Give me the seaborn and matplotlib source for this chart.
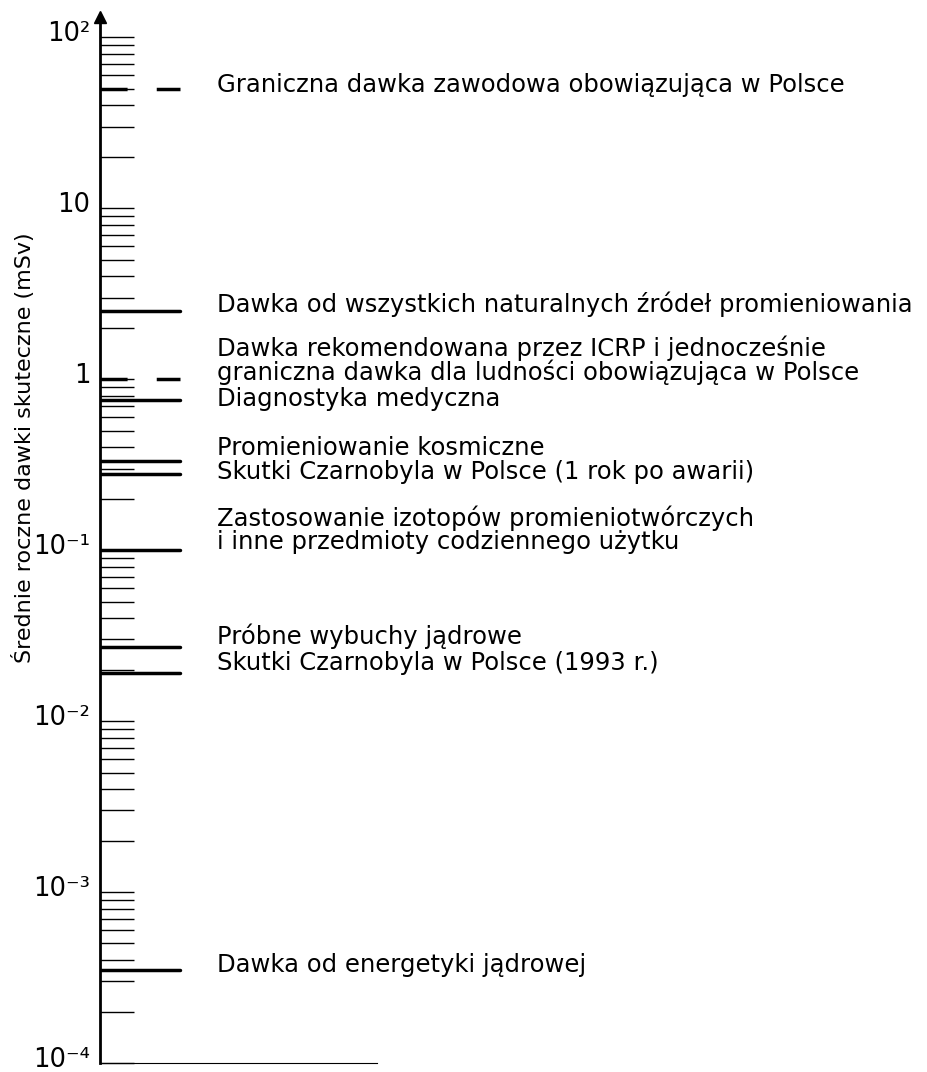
import numpy as np
import pandas as pd
import matplotlib
matplotlib.use('Agg')
import matplotlib.pyplot as plt
import matplotlib.transforms as mtransforms
import seaborn as sns
from matplotlib.ticker import LogLocator, NullFormatter, FixedLocator

# annual effective doses (mSv)
labels = [
    'Graniczna dawka zawodowa obowiązująca w Polsce',
    'Dawka od wszystkich naturalnych źródeł promieniowania',
    'Dawka rekomendowana przez ICRP i jednocześnie\ngraniczna dawka dla ludności obowiązująca w Polsce',
    'Diagnostyka medyczna',
    'Promieniowanie kosmiczne',
    'Skutki Czarnobyla w Polsce (1 rok po awarii)',
    'Zastosowanie izotopów promieniotwórczych\ni inne przedmioty codziennego użytku',
    'Próbne wybuchy jądrowe',
    'Skutki Czarnobyla w Polsce (1993 r.)',
    'Dawka od energetyki jądrowej',
]
doses = [50, 2.5, 1.0, 0.75, 0.33, 0.28, 0.1, 0.027, 0.019, 0.00035]
kinds = ['dashed', 'solid', 'dashed', 'solid', 'solid',
         'solid', 'solid', 'solid', 'solid', 'solid']

decades = [1e-4, 1e-3, 1e-2, 1e-1, 1, 10, 100]
decade_labels = ['10⁻⁴', '10⁻³', '10⁻²', '10⁻¹', '1', '10', '10²']

ylabel = 'Średnie roczne dawki skuteczne (mSv)'

# how far (px) each text sits above its line
text_offsets = [4, 7, 19, 1, 13, 2, 20, 11, 10, 5]

sns.set_style('ticks', {'text.color': 'black', 'axes.labelcolor': 'black',
                        'ytick.color': 'black', 'axes.edgecolor': 'black'})
plt.rcParams['font.family'] = ['DejaVu Sans']

fig = plt.figure(figsize=(9.28, 10.72), dpi=100)
ax = fig.add_axes([100 / 928, 9 / 1072, 277 / 928, 1043 / 1072])
ax.set_yscale('log')

# each dose is a short horizontal stroke from the axis
rows = []
for lab, d, k in zip(labels, doses, kinds):
    rows.append({'label': lab, 'x': 0.0, 'dose': d, 'kind': k})
    rows.append({'label': lab, 'x': 0.29, 'dose': d, 'kind': k})
df = pd.DataFrame(rows)

sns.lineplot(data=df, x='x', y='dose', units='label', estimator=None,
             style='kind', style_order=['solid', 'dashed'],
             dashes={'solid': '', 'dashed': (7.8, 8.4)},
             color='black', linewidth=2.5, legend=False, sort=False, ax=ax)

for lab, d, off in zip(labels, doses, text_offsets):
    ax.annotate(lab, xy=(0.422, d), xytext=(0, off * 0.72),
                textcoords='offset points', ha='left', va='center',
                fontsize=17.5, linespacing=0.93, color='black',
                annotation_clip=False)

ax.set_xlim(0, 1)
ax.set_ylim(1e-4, 126)

ax.yaxis.set_major_locator(FixedLocator(decades))
ax.set_yticklabels(decade_labels)
ax.yaxis.set_minor_locator(LogLocator(base=10, subs=np.arange(2, 10), numticks=50))
ax.yaxis.set_minor_formatter(NullFormatter())
ax.tick_params(axis='y', which='both', direction='in', length=24.5,
               width=1.0, color='black')
ax.tick_params(axis='y', which='major', labelsize=18.5, pad=7, labelcolor='black')
ax.set_xticks([])
ax.set_xlabel('')

# tick labels sit a little above their ticks
shift = mtransforms.ScaledTranslation(0, 6 / 100, fig.dpi_scale_trans)
for t in ax.get_yticklabels():
    t.set_transform(t.get_transform() + shift)

ax.set_ylabel(ylabel, fontsize=16, color='black')
ax.yaxis.set_label_coords(-0.235, 0.59)

sns.despine(ax=ax, top=True, right=True)
ax.spines['left'].set_linewidth(2.0)
ax.spines['bottom'].set_linewidth(0.8)

# arrow head on top of the axis
ax.plot([0], [1.003], marker='^', color='black', markersize=8,
        transform=ax.transAxes, clip_on=False)

fig.savefig('out.png', dpi=100)
